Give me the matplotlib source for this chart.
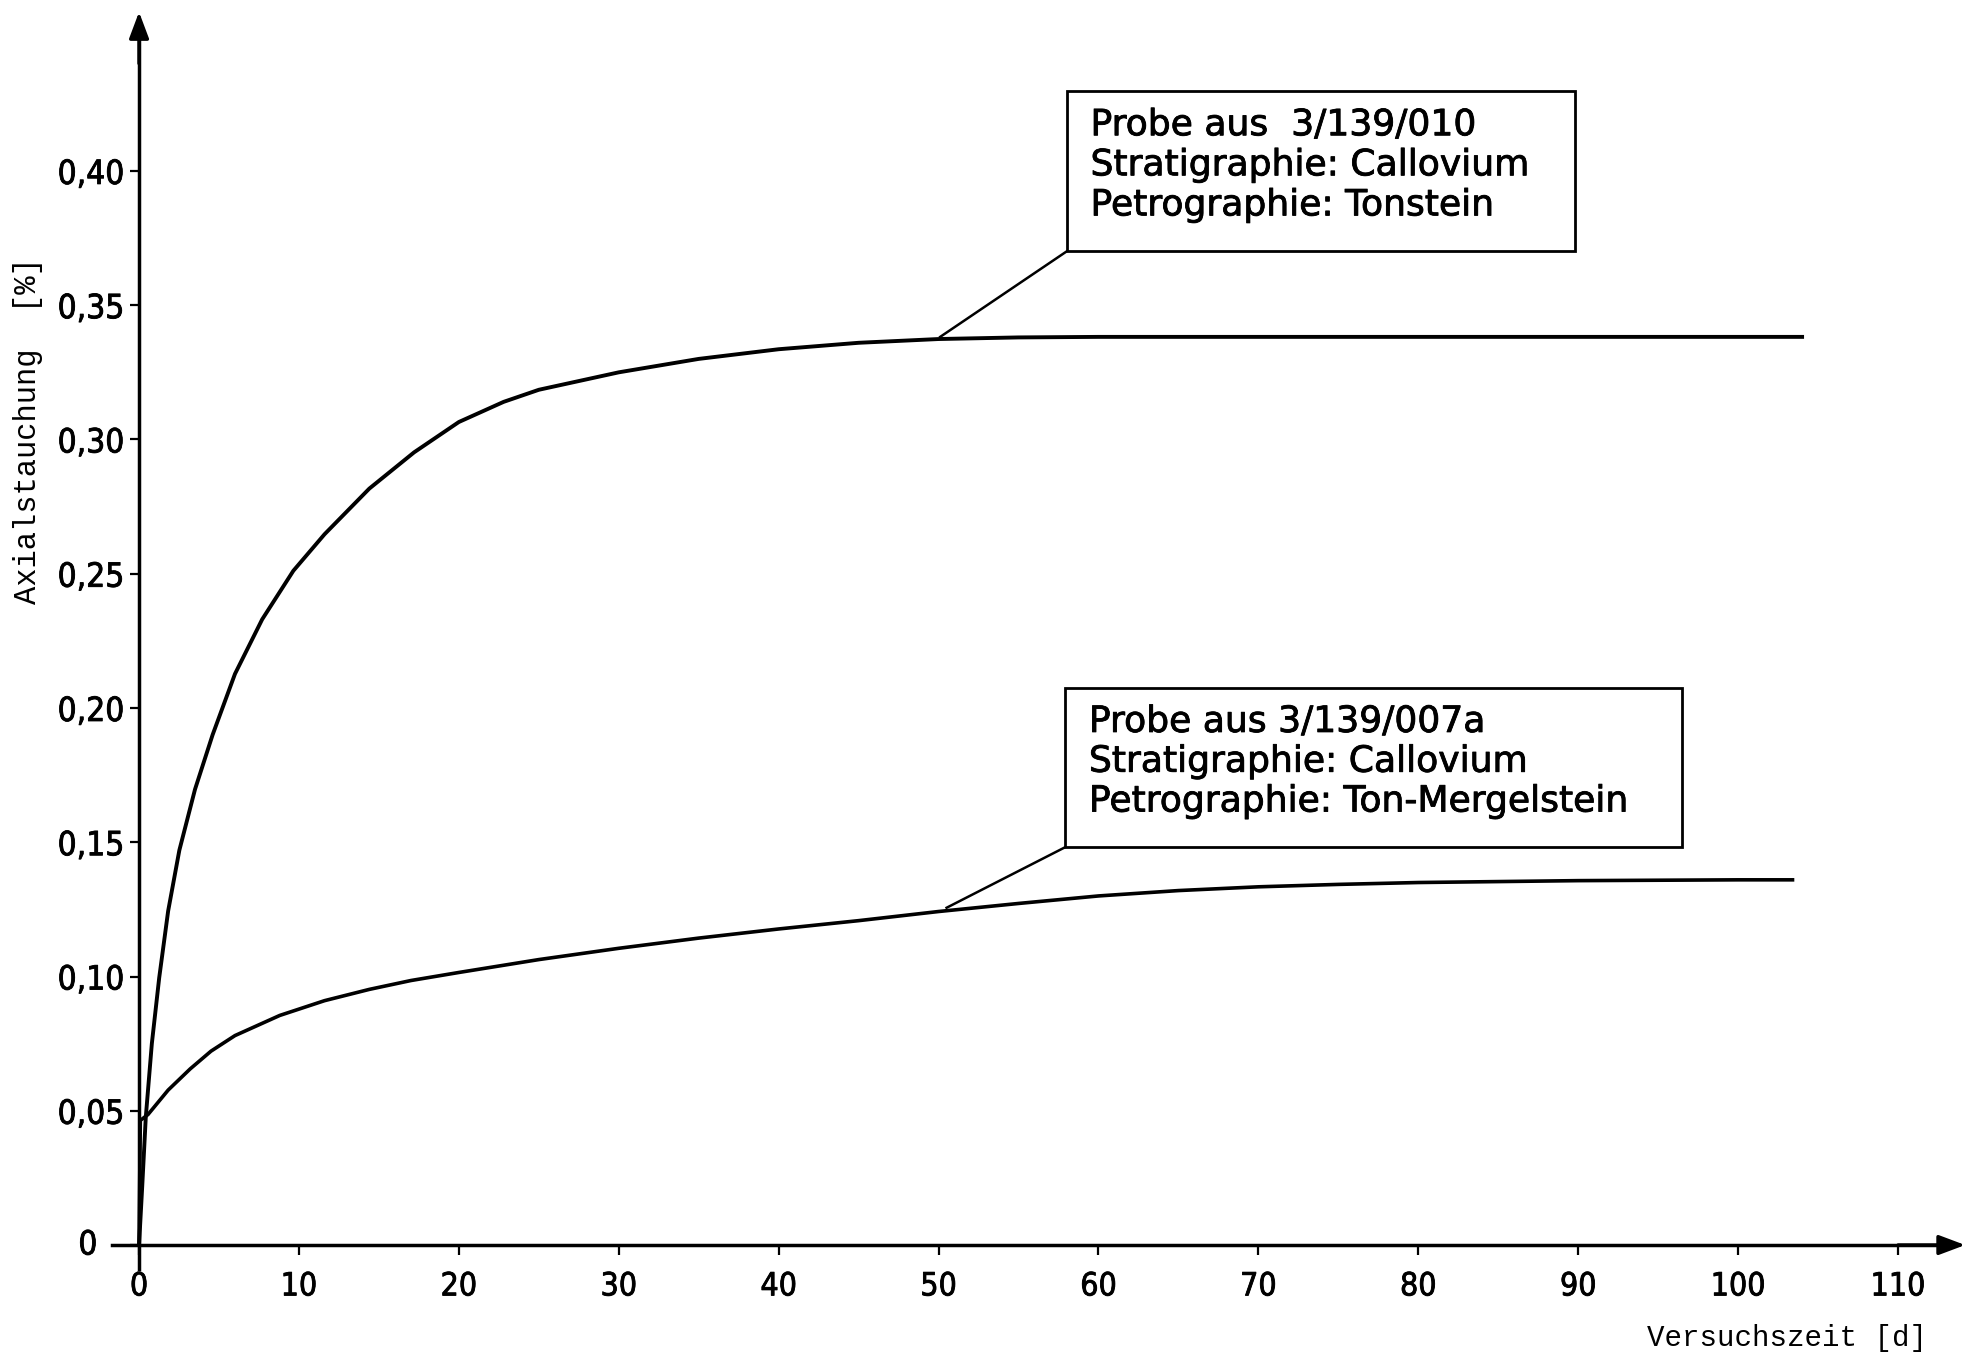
import numpy as np
import matplotlib
matplotlib.use("Agg")
import matplotlib.pyplot as plt
from matplotlib import font_manager
from matplotlib import patheffects
from matplotlib.patches import Rectangle

# Versuchszeit [d] und Axialstauchung [%]
t_010 = [0, 0.2, 0.42, 0.8, 1.26, 1.82, 2.52, 3.5, 4.6, 6.0, 7.7, 9.65, 11.6,
         14.4, 17.2, 20, 22.8, 25, 30, 35, 40, 45, 50, 55, 60, 104]
eps_010 = [0, 0.022, 0.0475, 0.075, 0.0995, 0.1244, 0.147, 0.1697, 0.190,
           0.2127, 0.233, 0.2511, 0.2647, 0.2817, 0.2952, 0.3065, 0.314,
           0.3185, 0.325, 0.330, 0.3336, 0.336, 0.3374, 0.338, 0.3382, 0.3382]

t_007a = [0, 0.08, 0.56, 1.82, 3.2, 4.5, 6.0, 8.8, 11.6, 14.4, 17, 20, 25,
          30, 35, 40, 45, 50, 55, 60, 65, 70, 75, 80, 90, 100, 103.4]
eps_007a = [0, 0.0464, 0.0486, 0.0577, 0.0656, 0.0722, 0.078, 0.0855, 0.091,
            0.0952, 0.0985, 0.1015, 0.1063, 0.1105, 0.1143, 0.1177, 0.1208,
            0.1242, 0.1272, 0.130, 0.132, 0.1334, 0.1343, 0.135, 0.1357,
            0.136, 0.136]

x_ticks = list(range(0, 111, 10))
y_ticks = [0, 0.05, 0.10, 0.15, 0.20, 0.25, 0.30, 0.35, 0.40]
y_ticklabels = ["0", "0,05", "0,10", "0,15", "0,20", "0,25", "0,30", "0,35", "0,40"]

box_010 = ["Probe aus  3/139/010", "Stratigraphie: Callovium", "Petrographie: Tonstein"]
box_007a = ["Probe aus 3/139/007a", "Stratigraphie: Callovium", "Petrographie: Ton-Mergelstein"]

# schmale Schrift fuer Zahlen
names = {f.name for f in font_manager.fontManager.ttflist}
if "Liberation Sans Narrow" in names:
    NARROW = dict(family="Liberation Sans Narrow")
else:
    NARROW = dict(family="DejaVu Sans", stretch="condensed")
MONO = dict(family="Liberation Mono")
BOLDISH = [patheffects.withStroke(linewidth=0.6, foreground="black")]

fig = plt.figure(figsize=(19.67, 13.58), dpi=100)
ax = fig.add_axes([0.0463, 0.0041, 0.9536, 0.9946])
ax.set_xlim(-3, 114.3)
ax.set_ylim(-0.04, 0.463)

for s in ["top", "right"]:
    ax.spines[s].set_visible(False)
ax.spines["bottom"].set_position(("data", 0))
ax.spines["left"].set_position(("data", 0))
ax.spines["bottom"].set_bounds(-1.7, 113)
ax.spines["left"].set_bounds(-0.009, 0.45)
for s in ["bottom", "left"]:
    ax.spines[s].set_linewidth(2.5)

arrow = dict(arrowstyle="-|>,head_length=0.8,head_width=0.3", lw=2.5,
             color="black", mutation_scale=20, shrinkA=0, shrinkB=0)
ax.annotate("", xy=(114.2, 0), xytext=(110, 0), arrowprops=arrow)
ax.annotate("", xy=(0, 0.4592), xytext=(0, 0.44), arrowprops=arrow)

ax.set_xticks(x_ticks)
ax.set_xticklabels([str(v) for v in x_ticks], fontsize=23, **NARROW)
ax.set_yticks(y_ticks)
ax.set_yticklabels([""] + y_ticklabels[1:], fontsize=24, **NARROW)
ax.tick_params(axis="x", direction="out", length=7, width=1.6, pad=12)
ax.tick_params(axis="y", direction="out", length=6.5, width=1.6, pad=4)
# die Null der y-Achse steht links vom Achsenende
ax.text(-2.6, 0, y_ticklabels[0], fontsize=24, ha="right", va="center", **NARROW)
for lab in ax.get_xticklabels() + ax.get_yticklabels() + ax.texts:
    lab.set_path_effects(BOLDISH)

ax.plot(t_010, eps_010, color="black", lw=2.8, solid_joinstyle="round")
ax.plot(t_007a, eps_007a, color="black", lw=2.6, solid_joinstyle="round")

# Beschriftungskaesten mit Hinweislinie
def callout(lines, x0, y0, x1, y1, tip):
    ax.add_patch(Rectangle((x0, y0), x1 - x0, y1 - y0, fill=False,
                           lw=2.0, edgecolor="black", zorder=3))
    ax.plot([x0, tip[0]], [y0, tip[1]], color="black", lw=1.8)
    step = (y1 - y0) / 4.0
    for i, txt in enumerate(lines):
        ax.text(x0 + 1.5, y1 - step * (i + 0.85), txt, fontsize=26,
                va="center", ha="left", family="DejaVu Sans",
                path_effects=BOLDISH)

callout(box_010, 58.0, 0.370, 89.8, 0.4297, (50.1, 0.3382))
callout(box_007a, 57.9, 0.1481, 96.5, 0.2074, (50.5, 0.1256))

fig.text(0.0142, 0.683, "Axialstauchung  [%]", rotation=90, fontsize=22,
         ha="center", va="center", **MONO)
fig.text(0.9085, 0.0145, "Versuchszeit [d]", fontsize=21,
         ha="center", va="center", **MONO)

fig.savefig("out.png", dpi=100)
